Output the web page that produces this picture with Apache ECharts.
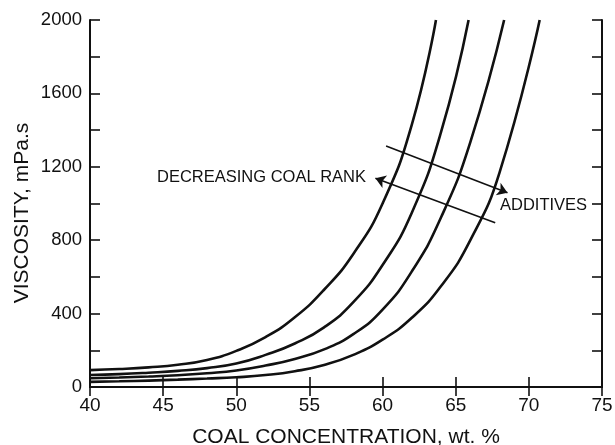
<!DOCTYPE html>
<html>
<head>
<meta charset="utf-8">
<script src="https://cdn.jsdelivr.net/npm/echarts@6/dist/echarts.min.js"></script>
<style>
  html, body { margin: 0; padding: 0; background: #fff; }
  #chart { width: 615px; height: 445px; }
</style>
</head>
<body>
<div id="chart"></div>
<script>
// Coal concentration (wt. %) sample points for each viscosity curve
const conc1 = [40, 42, 44, 46, 48, 50, 52, 54, 56, 58, 60, 62, 63.65];
const visc1 = [92, 98, 107, 121, 147, 197, 272, 380, 530, 725, 1000, 1430, 2000];

const conc2 = [40, 42, 44, 46, 48, 50, 52, 54, 56, 58, 60, 62, 64, 65.88];
const visc2 = [65, 70, 78, 88, 103, 128, 175, 237, 325, 462, 665, 950, 1390, 2000];

const conc3 = [40, 42, 44, 46, 48, 50, 52, 54, 56, 58, 60, 62, 64, 66, 68.31];
const visc3 = [48, 52, 57, 64, 75, 90, 117, 153, 205, 288, 422, 630, 925, 1335, 2000];

const conc4 = [40, 42, 44, 46, 48, 50, 52, 54, 56, 58, 60, 62, 64, 66, 68, 70.74];
const visc4 = [28, 31, 35, 40, 46, 53, 65, 86, 120, 175, 258, 377, 550, 800, 1170, 2000];

// Axis ticks
const xTicks = [40, 45, 50, 55, 60, 65, 70, 75];
const yLabelTicks = [0, 400, 800, 1200, 1600, 2000];

// Trend arrows across the curves: [start, end] in (concentration, viscosity)
const additivesArrow = [[60.24, 1313], [68.54, 1059]];
const rankArrow = [[59.51, 1137], [67.70, 895]];

const FONT = '"Liberation Sans", Arial, Helvetica, sans-serif';
const INK = '#111';

function pairs(xs, ys) { return xs.map((x, i) => [x, ys[i]]); }

function curve(xs, ys) {
  return {
    type: 'line',
    data: pairs(xs, ys),
    smooth: 0.5,
    showSymbol: false,
    symbol: 'none',
    silent: true,
    clip: true,
    lineStyle: { color: INK, width: 2.6 }
  };
}

const chart = echarts.init(document.getElementById('chart'), null, { renderer: 'canvas' });

const axisLine = { show: true, lineStyle: { color: INK, width: 2 } };
const tickStyle = { color: INK, width: 1.6 };

const series = [
  curve(conc1, visc1),
  curve(conc2, visc2),
  curve(conc3, visc3),
  curve(conc4, visc4)
];

// arrows drawn as mark lines in data coordinates
series[0].markLine = {
  silent: true,
  animation: false,
  label: { show: false },
  lineStyle: { color: INK, width: 1.6, type: 'solid' },
  symbolSize: 10,
  data: [
    [
      { coord: additivesArrow[0], symbol: 'none' },
      { coord: additivesArrow[1], symbol: 'arrow' }
    ],
    [
      { coord: rankArrow[0], symbol: 'arrow' },
      { coord: rankArrow[1], symbol: 'none' }
    ]
  ]
};

chart.setOption({
  animation: false,
  backgroundColor: '#fff',
  textStyle: { fontFamily: FONT, color: INK },
  grid: {
    left: 90, right: 13, top: 20, bottom: 58,
    containLabel: false, outerBoundsMode: 'none'
  },
  xAxis: [
    {
      type: 'value', min: xTicks[0], max: xTicks[xTicks.length - 1], interval: 5,
      position: 'bottom',
      axisLine: axisLine,
      axisTick: { show: true, inside: true, length: 10, lineStyle: tickStyle },
      axisLabel: { color: INK, fontSize: 19, fontFamily: FONT, margin: 9 },
      splitLine: { show: false },
      name: 'COAL CONCENTRATION, wt. %',
      nameLocation: 'middle',
      nameGap: 40,
      nameTextStyle: { color: INK, fontSize: 21, fontFamily: FONT }
    },
    {
      type: 'value', min: xTicks[0], max: xTicks[xTicks.length - 1], interval: 5,
      position: 'top',
      axisLine: axisLine,
      axisTick: { show: true, inside: true, length: 9, lineStyle: tickStyle },
      axisLabel: { show: false },
      splitLine: { show: false }
    }
  ],
  yAxis: [
    {
      type: 'value', min: 0, max: 2000, interval: 200,
      position: 'left',
      axisLine: axisLine,
      axisTick: { show: true, inside: true, length: 10, lineStyle: tickStyle },
      axisLabel: {
        color: INK, fontSize: 18.5, fontFamily: FONT, margin: 8,
        formatter: v => (yLabelTicks.indexOf(v) >= 0 ? String(v) : '')
      },
      splitLine: { show: false }
    },
    {
      type: 'value', min: 0, max: 2000, interval: 200,
      position: 'right',
      axisLine: axisLine,
      axisTick: { show: true, inside: true, length: 10, lineStyle: tickStyle },
      axisLabel: { show: false },
      splitLine: { show: false }
    }
  ],
  graphic: [
    {
      type: 'text', x: 22, y: 213, rotation: Math.PI / 2, silent: true,
      style: {
        text: 'VISCOSITY, mPa.s', fill: INK, font: '21px ' + FONT,
        align: 'center', verticalAlign: 'middle'
      }
    },
    {
      type: 'text', left: 157, top: 169, silent: true,
      style: { text: 'DECREASING COAL RANK', fill: INK, font: '16.5px ' + FONT }
    },
    {
      type: 'text', left: 500, top: 197, silent: true,
      style: { text: 'ADDITIVES', fill: INK, font: '16.5px ' + FONT }
    }
  ],
  series: series
});
</script>
</body>
</html>
